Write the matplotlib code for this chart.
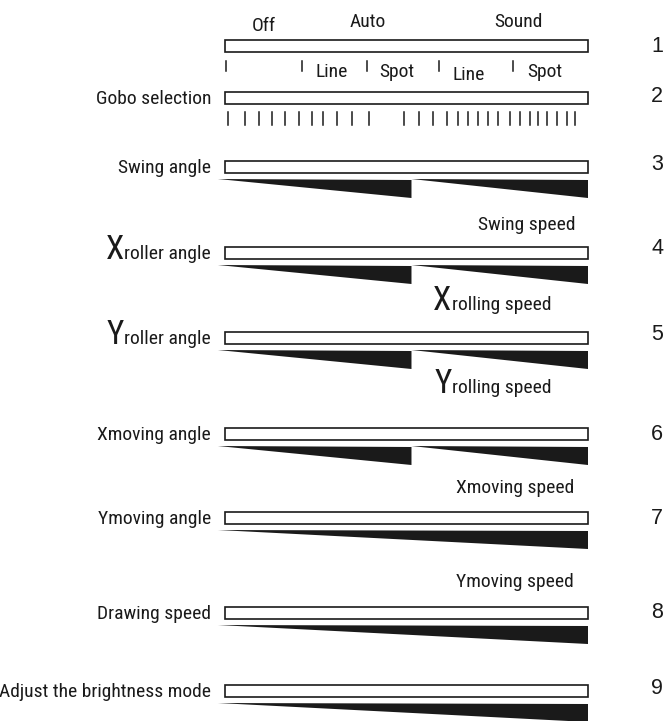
import matplotlib
matplotlib.use('Agg')
import matplotlib.pyplot as plt
from matplotlib import font_manager
from matplotlib.patches import Rectangle, Polygon

# ---- data (DMX values 0-255) ----
channels = ['1', '2', '3', '4', '5', '6', '7', '8', '9']
channel_names = ['', 'Gobo selection', 'Swing angle', 'Xroller angle', 'Yroller angle',
                 'Xmoving angle', 'Ymoving angle', 'Drawing speed', 'Adjust the brightness mode']
speed_names = ['', '', '', 'Swing speed', 'Xrolling speed', 'Yrolling speed',
               'Xmoving speed', 'Ymoving speed', '']
big_initial = ['Xroller angle', 'Yroller angle', 'Xrolling speed', 'Yrolling speed']

mode_names = ['Off', 'Auto', 'Sound']
mode_dmx = [27, 100, 206]
sub_names = ['Line', 'Spot', 'Line', 'Spot']
sub_dmx = [75, 121, 171, 225]
sub_marks = [1, 54, 100, 150, 202]

gobo_marks = [2, 14, 24, 33, 42, 52, 61, 69, 79, 89, 101,
              126, 136, 146, 156, 164, 171, 178, 185, 192, 200, 207, 214,
              220, 226, 233, 240, 246]

split_ramp = [(-5, 131), (131, 255)]
full_ramp = [(-5, 255)]
ramps = [[], [], split_ramp, split_ramp, split_ramp, split_ramp,
         full_ramp, full_ramp, full_ramp]

# ---- layout (pixels) ----
W, H = 669, 721
BAR_L, BAR_R = 225, 588
bar_top = [40, 92, 161, 247, 332, 428, 512, 607, 685]
speed_base = [0, 0, 0, 230, 310, 393, 493, 587, 0]
speed_right = [0, 0, 0, 575, 551, 551, 574, 574, 0]
num_y = [47, 97, 165, 249, 334, 434, 518, 612, 689]
ink = '#1a1a1a'


def pick_font(names):
    for n in names:
        try:
            font_manager.findfont(font_manager.FontProperties(family=n),
                                  fallback_to_default=False)
            return n
        except ValueError:
            continue
    return 'DejaVu Sans'


narrow = pick_font(['Liberation Sans Narrow', 'Arial Narrow', 'Roboto Condensed'])
if narrow == 'DejaVu Sans':
    narrow = pick_font(['Liberation Sans'])
    fs = 12
else:
    fs = 14
plain = pick_font(['Liberation Sans', 'DejaVu Sans'])


def dmx_x(v):
    return BAR_L + v * (BAR_R - BAR_L) / 255.0


fig = plt.figure(figsize=(W / 100, H / 100), dpi=100)
ax = fig.add_axes([0, 0, 1, 1])
ax.set_xlim(0, W)
ax.set_ylim(H, 0)
ax.axis('off')
renderer = fig.canvas.get_renderer()


def width_of(t):
    return t.get_window_extent(renderer).width


def label(x, y, s, ha):
    # right-aligned label, first letter enlarged for some names
    if s in big_initial:
        big = ax.text(0, y, s[0], fontsize=fs * 1.7, family=narrow, color=ink, va='baseline')
        rest = ax.text(0, y, s[1:], fontsize=fs, family=narrow, color=ink, va='baseline')
        wb, wr = width_of(big), width_of(rest)
        x0 = x - wb - wr if ha == 'right' else x
        big.set_x(x0)
        rest.set_x(x0 + wb)
    else:
        ax.text(x, y, s, fontsize=fs, family=narrow, color=ink, va='baseline', ha=ha)


for i, ch in enumerate(channels):
    top = bar_top[i]
    ax.add_patch(Rectangle((BAR_L, top), BAR_R - BAR_L, 12, facecolor='white',
                           edgecolor=ink, linewidth=1.2))
    for a, b in ramps[i]:
        x0, x1 = dmx_x(a), dmx_x(b)
        ax.add_patch(Polygon([(x0, top + 18), (x1, top + 19), (x1, top + 37)],
                             closed=True, facecolor=ink, edgecolor='none'))
    if channel_names[i]:
        label(211, top + 12, channel_names[i], 'right')
    if speed_names[i]:
        label(speed_right[i], speed_base[i], speed_names[i], 'right')
    ax.text(657, num_y[i], ch, fontsize=15.5, family=plain, color=ink,
            ha='center', va='center')

# channel 1: modes
for name, v, yb in zip(mode_names, mode_dmx, [31, 27, 27]):
    ax.text(dmx_x(v), yb, name, fontsize=fs, family=narrow, color=ink,
            ha='center', va='baseline')
for v in sub_marks:
    ax.plot([dmx_x(v), dmx_x(v)], [61, 71], color=ink, lw=1.1)
for name, v, yb in zip(sub_names, sub_dmx, [77, 77, 80, 77]):
    ax.text(dmx_x(v), yb, name, fontsize=fs, family=narrow, color=ink,
            ha='center', va='baseline')

# channel 2: gobo steps
for v in gobo_marks:
    ax.plot([dmx_x(v), dmx_x(v)], [112, 125], color=ink, lw=1.1)

fig.savefig('out.png', dpi=100, facecolor='white')
